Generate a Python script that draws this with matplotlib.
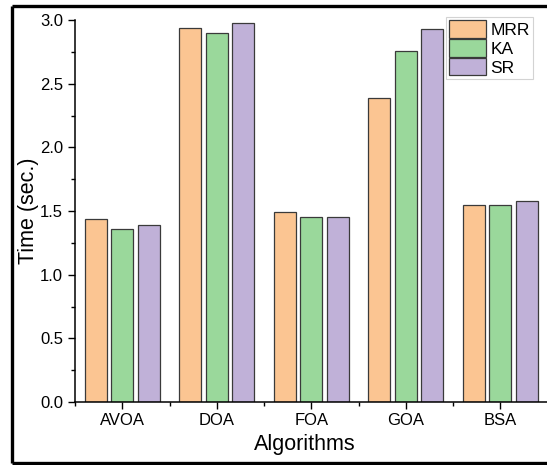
import matplotlib
matplotlib.use("Agg")
import matplotlib.pyplot as plt
from matplotlib.lines import Line2D
from matplotlib.ticker import MultipleLocator, FixedLocator, FormatStrFormatter
import numpy as np

plt.rcParams['font.family'] = ['Liberation Sans', 'DejaVu Sans']

algorithms = ["AVOA", "DOA", "FOA", "GOA", "BSA"]
mrr = [1.44, 2.94, 1.49, 2.39, 1.55]
ka = [1.36, 2.90, 1.45, 2.76, 1.55]
sr = [1.39, 2.98, 1.45, 2.93, 1.58]

series = [("MRR", mrr, "#FBC592"), ("KA", ka, "#9AD89B"), ("SR", sr, "#C0B1D8")]

W, H = 547, 465
fig = plt.figure(figsize=(W / 100, H / 100), dpi=100)

# outer frame: left, top and bottom edges only
fx0, fy_top, fy_bot = 12 / W, 1 - 6 / H, 1 - 463 / H
for xs, ys in [([fx0, fx0], [fy_bot, fy_top]),
               ([fx0, 1.0], [fy_top, fy_top]),
               ([fx0, 1.0], [fy_bot, fy_bot])]:
    fig.add_artist(Line2D(xs, ys, transform=fig.transFigure, color="black",
                          linewidth=2.4, solid_capstyle="butt"))

# the plotting area runs a little past the right edge of the canvas
px_per_cat = 94.5
ax_left, ax_right = 75, 560
ax = fig.add_axes([ax_left / W, 1 - 402 / H, (ax_right - ax_left) / W, (402 - 20) / H])

x = np.arange(len(algorithms))
step = 0.28
width = 0.233
for i, (name, vals, col) in enumerate(series):
    ax.bar(x + (i - 1) * step, vals, width, color=col, edgecolor="#3a3a3a",
           linewidth=0.9, label=name, zorder=2)

ax.set_xlim(-0.5, -0.5 + (ax_right - ax_left) / px_per_cat)
ax.set_ylim(0, 3.0)
ax.set_xticks(x)
ax.set_xticklabels(algorithms)
ax.xaxis.set_minor_locator(FixedLocator(np.arange(-0.5, 4.6, 1.0)))
ax.yaxis.set_major_locator(MultipleLocator(0.5))
ax.yaxis.set_minor_locator(MultipleLocator(0.25))
ax.yaxis.set_major_formatter(FormatStrFormatter("%.1f"))
ax.tick_params(axis="both", which="major", direction="out", length=5, width=1,
               labelsize=12, colors="black")
ax.tick_params(axis="both", which="minor", direction="out", length=3, width=1)
ax.tick_params(axis="x", which="major", pad=3)

for s in ["top", "right"]:
    ax.spines[s].set_visible(False)
for s in ["left", "bottom"]:
    ax.spines[s].set_linewidth(1.1)

ax.set_xlabel("Algorithms", fontsize=15.5, labelpad=1)
ax.xaxis.set_label_coords((305 - ax_left) / (ax_right - ax_left), -0.085)
ax.set_ylabel("Time (sec.)", fontsize=15.5, labelpad=0.5)

leg = ax.legend(loc="upper left", bbox_to_anchor=(446 / W, 1 - 17 / H),
                bbox_transform=fig.transFigure, frameon=True, fancybox=False,
                fontsize=12.5, handlelength=2.1, handleheight=1.15,
                handletextpad=0.25, borderpad=0.2, labelspacing=0.08,
                borderaxespad=0)
leg.get_frame().set_edgecolor("#c8c8c8")
leg.get_frame().set_linewidth(0.8)

fig.savefig("out.png", dpi=100)
